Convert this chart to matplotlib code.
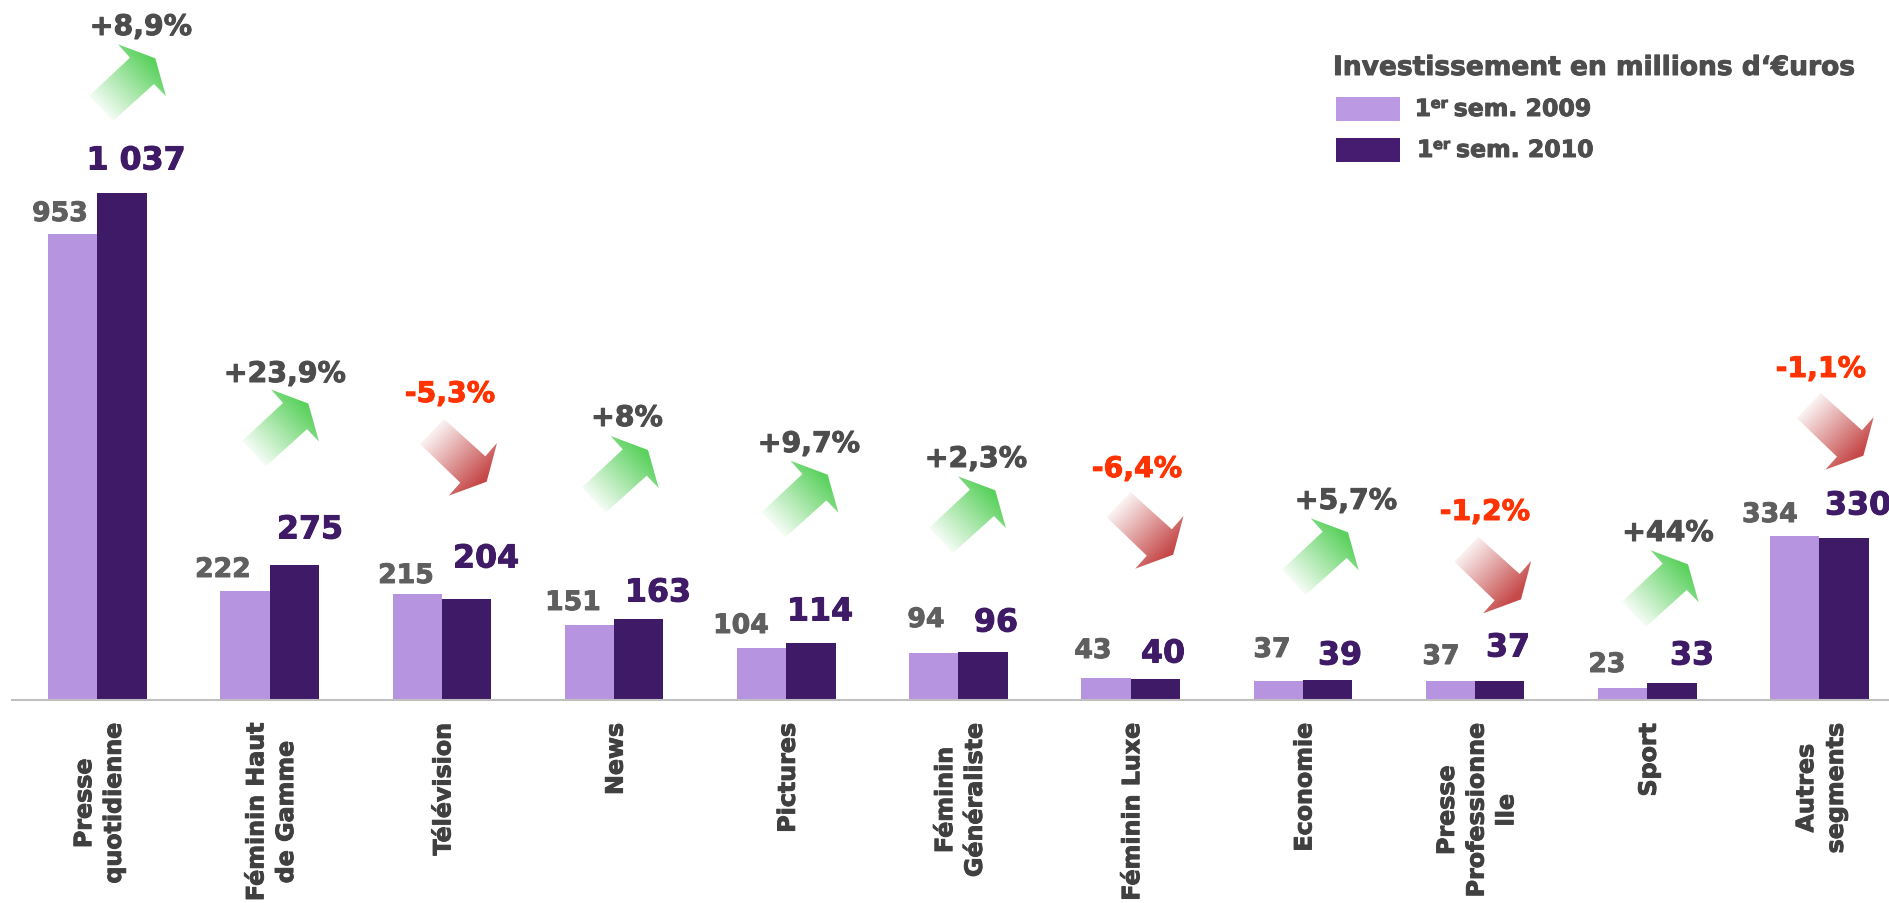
import numpy as np
import matplotlib
matplotlib.use("Agg")
import matplotlib.pyplot as plt
import matplotlib.patheffects as pe
from matplotlib.patches import Polygon, Rectangle

plt.rcParams['font.family'] = ['DejaVu Sans']
plt.rcParams['font.weight'] = 'bold'

categories = ["Presse\nquotidienne", "Féminin Haut\nde Gamme", "Télévision", "News", "Pictures",
              "Féminin\nGénéraliste", "Féminin Luxe", "Economie", "Presse\nProfessionne\nlle", "Sport",
              "Autres\nsegments"]
sem_2009 = [953, 222, 215, 151, 104, 94, 43, 37, 37, 23, 334]
sem_2010 = [1037, 275, 204, 163, 114, 96, 40, 39, 37, 33, 330]
labels_2009 = ["953", "222", "215", "151", "104", "94", "43", "37", "37", "23", "334"]
labels_2010 = ["1 037", "275", "204", "163", "114", "96", "40", "39", "37", "33", "330"]
evolution = ["+8,9%", "+23,9%", "-5,3%", "+8%", "+9,7%", "+2,3%", "-6,4%", "+5,7%", "-1,2%", "+44%", "-1,1%"]

# label and arrow places, in pixels of the 1890x904 picture
pos_2009 = [(60, 215), (223, 571), (406, 577), (573, 604), (741, 627), (926, 621),
            (1093, 652), (1272, 651), (1441, 658), (1607, 666), (1770, 516)]
pos_2010 = [(136, 162), (310, 531), (486, 560), (658, 594), (820, 613), (996, 624),
            (1163, 655), (1340, 657), (1508, 649), (1692, 657), (1858, 507)]
pos_evol = [(141, 28), (285, 375), (450, 395), (627, 419), (809, 445), (976, 460),
            (1137, 470), (1346, 502), (1485, 513), (1668, 534), (1821, 370)]
pos_arrow = [(89.3, 45.3), (242.3, 390.5), (420, 420), (582, 437), (761.7, 461.7), (929.3, 477.3),
             (1106.5, 493), (1282, 519.3), (1454.3, 537.7), (1622, 551.3), (1796.7, 394)]

light = '#B794E0'
dark = '#3F1A66'

up_shape = np.array([(0, 51.4), (23.7, 76.7), (64.7, 39.7), (76.7, 52), (66, 14), (28.7, 0), (40.7, 13.4)])
down_shape = np.array([(0, 25), (24, 0), (65.3, 37.3), (77, 24), (66.7, 62.7), (28.7, 76.7), (40.3, 63.7)])

def arrow(ax, x0, y0, up):
    if up:
        shape = up_shape
        rgb = (0.36, 0.82, 0.37)
        start, end = (12, 64), (62, 16)
    else:
        shape = down_shape
        rgb = (0.78, 0.29, 0.29)
        start, end = (12, 12), (62, 60)
    w, h = shape[:, 0].max(), shape[:, 1].max()
    xx, yy = np.meshgrid(np.linspace(0, w, 80), np.linspace(0, h, 80))
    dx, dy = end[0] - start[0], end[1] - start[1]
    t = ((xx - start[0]) * dx + (yy - start[1]) * dy) / (dx * dx + dy * dy)
    t = np.clip(t, 0, 1)
    img = np.zeros((80, 80, 4))
    img[..., :3] = rgb
    img[..., 3] = 0.07 + 0.93 * t
    im = ax.imshow(img, extent=(x0, x0 + w, y0 + h, y0), aspect='auto', zorder=3)
    poly = Polygon(shape + (x0, y0), closed=True, transform=ax.transData, fc='none', ec='none')
    ax.add_patch(poly)
    im.set_clip_path(poly)

def bold_text(ax, x, y, s, color, size, **kw):
    t = ax.text(x, y, s, color=color, fontsize=size, **kw)
    t.set_path_effects([pe.withStroke(linewidth=0.7, foreground=color)])
    return t

fig = plt.figure(figsize=(18.9, 9.04), dpi=100)

# bars: data axes filling the figure, 172.2 px per group, 0.488 px per million
ax = fig.add_axes([0, 0, 1, 1])
ax.set_xlim(-97.5 / 172.2, (1890 - 97.5) / 172.2)
ax.set_ylim(-204 / 0.488, 700 / 0.488)
ax.axis('off')
x = np.arange(len(categories))
w = 49.3 / 172.2
ax.bar(x - w / 2, sem_2009, w, color=light, zorder=2)
ax.bar(x + w / 2, sem_2010, w, color=dark, zorder=2)

# everything else in pixels
px = fig.add_axes([0, 0, 1, 1])
px.patch.set_alpha(0)
px.axis('off')

px.plot([11, 1890], [700.5, 700.5], color='#BFBFBF', lw=1.5, zorder=1, solid_capstyle='butt')

for i in range(len(categories)):
    bold_text(px, *pos_2009[i], labels_2009[i], '#5F5F5F', 19.2, ha='center', va='center')
    bold_text(px, *pos_2010[i], labels_2010[i], dark, 22.8, ha='center', va='center')
    neg = evolution[i].startswith('-')
    bold_text(px, *pos_evol[i], evolution[i], '#FF3300' if neg else '#4D4D4D', 20.4,
              ha='center', va='center')
    arrow(px, pos_arrow[i][0], pos_arrow[i][1], not neg)
    bold_text(px, 99 + 172.2 * i, 724, categories[i], '#404040', 17.1, rotation=90,
              ha='center', va='top', multialignment='center', linespacing=1.3)

# legend
bold_text(px, 1333, 76, "Investissement en millions d‘€uros", '#4D4D4D', 19.05, va='baseline')
px.add_patch(Rectangle((1336, 98), 64, 24, fc='#BB9AE3', ec='none'))
px.add_patch(Rectangle((1336, 139), 64, 24, fc='#461C70', ec='none'))
for tx, ty, year in [(1414.7, 117, "sem. 2009"), (1417, 158, "sem. 2010")]:
    bold_text(px, tx, ty, "1", '#4D4D4D', 17, va='baseline')
    bold_text(px, tx + 16, ty - 8, "er", '#4D4D4D', 10.5, va='baseline')
    bold_text(px, tx + 39, ty, year, '#4D4D4D', 17, va='baseline')

px.set_xlim(0, 1890)
px.set_ylim(904, 0)

fig.savefig("out.png", dpi=100)
